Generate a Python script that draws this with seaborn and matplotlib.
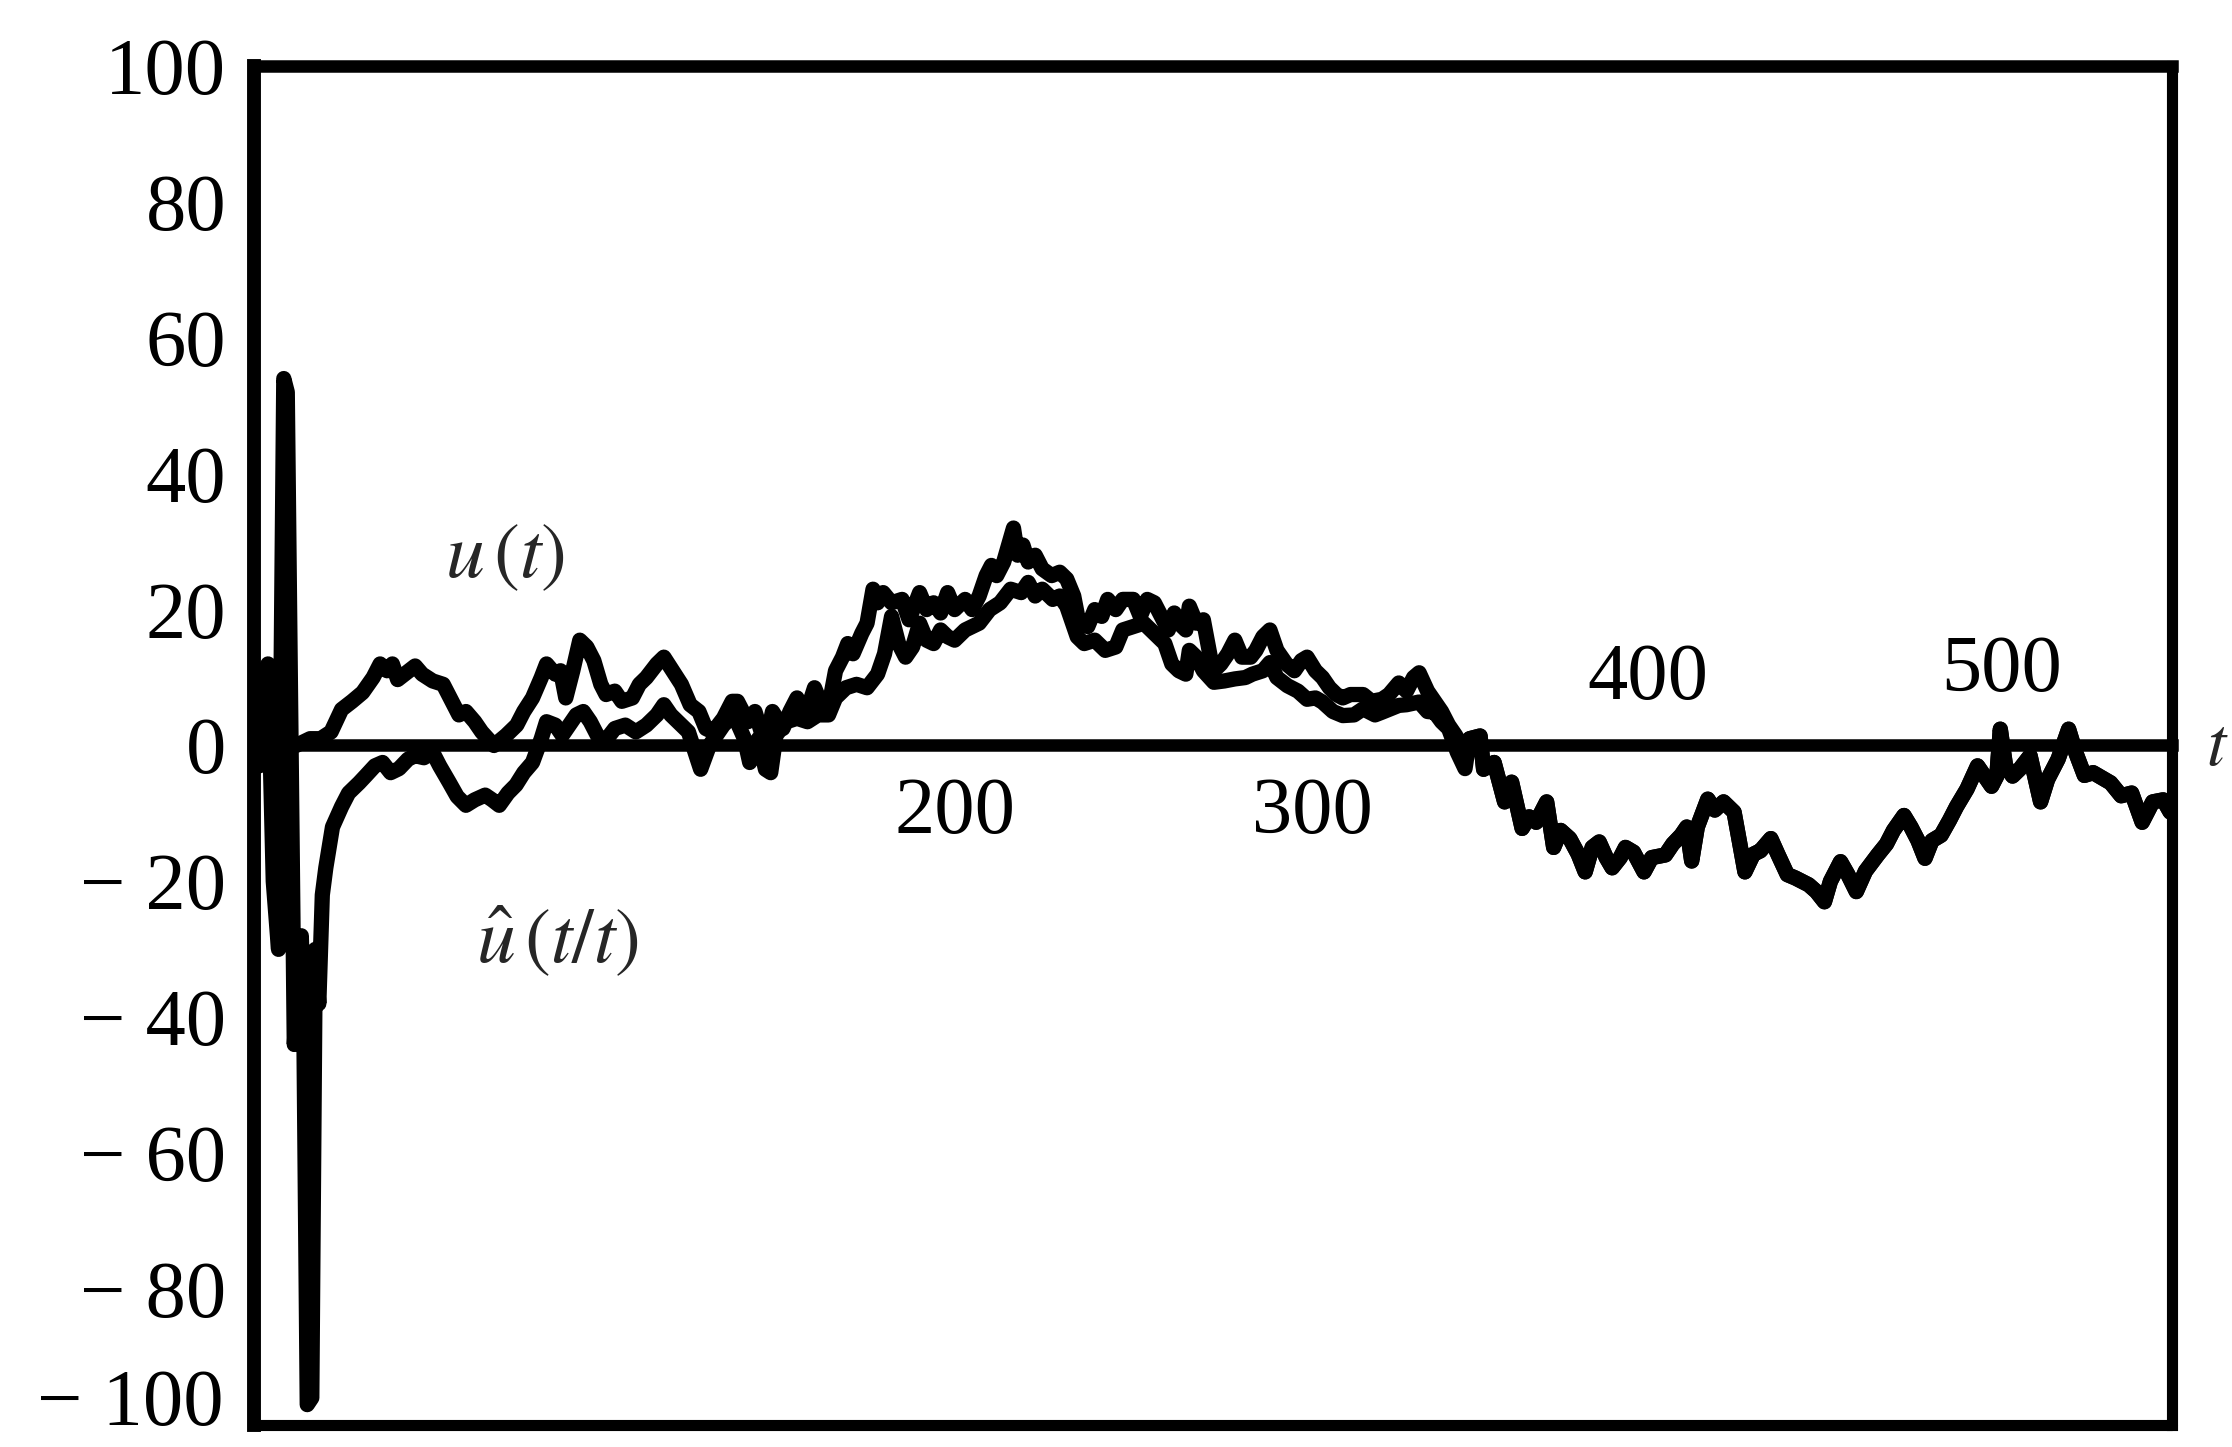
import matplotlib
matplotlib.use("Agg")
import matplotlib.pyplot as plt
import pandas as pd
import seaborn as sns

# ---------------- data ----------------
# true state u(t): (t, value)
u_points = [
    (0, 0), (4, -1), (8, 0.5), (12, 0), (16, 1), (19, 1), (22, 2), (25, 5.3), (28, 6.5),
    (31, 7.8), (34, 10), (36, 12), (38, 11), (39.5, 12), (41, 9.7), (43, 10.5), (46, 11.7),
    (48, 10.5), (51, 9.5), (54, 9), (56, 7), (58.5, 4.5), (60.5, 5), (63, 3.5), (65, 2),
    (68.5, 0), (72, 1.5), (75, 3), (77, 5), (79.5, 7), (82, 10), (83.5, 12), (86, 10.5),
    (87.5, 11), (89, 7), (91, 11), (93, 15.5), (95, 14.5), (97, 12.5), (99, 9), (100.5, 7.5),
    (103, 8), (105, 6.5), (108, 7), (110, 9), (112, 10), (115, 12), (117, 13), (119.5, 11),
    (122, 9), (124.5, 6), (127, 5), (129, 2.5), (131, 2), (134, 4), (136.5, 6.5), (138, 6.5),
    (141, 3.5), (143, 5), (146, 0), (148, 5), (151, 2.5), (153, 5), (155, 7), (157.5, 4.5),
    (160, 8.5), (162, 6), (164, 5.5), (166, 11), (168, 13), (169.5, 15), (171, 13.5),
    (173.5, 16.5), (175, 18), (176.7, 23), (178, 21), (179.6, 22.5), (182, 21), (185, 21.5),
    (187, 18.5), (190, 22.5), (192, 20), (194, 21), (196, 19.5), (198, 22.5), (200, 20),
    (203, 21.5), (205, 20), (207, 22), (209, 25), (210.5, 26.5), (212, 25), (214, 27),
    (216.8, 32), (218, 28), (219.5, 29.5), (221, 27), (223, 28), (225, 26), (227.7, 25),
    (230, 25.5), (232, 24.5), (234, 22), (235.5, 18), (238, 17.5), (240, 20), (242, 19),
    (243.7, 21.5), (246, 20), (248, 21.5), (251, 21.5), (253, 19), (255, 21.5), (257, 21),
    (259, 19), (261, 17), (262.7, 19.5), (264, 18), (266, 17), (267, 20.5), (269, 18),
    (271, 18.5), (273, 13), (274, 11), (276, 12), (278, 13.5), (280, 15.5), (282, 13),
    (284.5, 13), (286, 14), (288, 16), (290, 17), (292, 14), (294.7, 12), (297, 11),
    (299, 12.5), (300.6, 13), (303, 11), (305, 10), (307, 8.5), (309, 7.5), (310.8, 7),
    (313, 7.5), (316.6, 7.5), (319, 6.5), (322, 6.8), (324, 7.5), (326.8, 9.2), (329, 8),
    (331, 10), (332.6, 10.7), (335, 8), (337, 6.5), (339, 5), (341, 3), (343, 1.5),
    (345.7, -1), (347, 1), (350, 1.4), (351, -3.5), (354, -2.5), (357, -8.3), (359, -5.4),
    (362, -12.2), (364, -10.5), (366, -11.3), (369, -8.3), (371, -15), (373, -12.5),
    (375.6, -13.7), (378, -16), (380, -18.6), (382, -15), (384, -14.2), (386, -16.5),
    (387.7, -18), (390, -16.5), (391.5, -15), (393.8, -15.7), (396.8, -18.6), (399, -16.5),
    (402.9, -16.1), (405, -14.5), (407.4, -13.2), (409, -12), (410.4, -17), (412, -12),
    (415, -7.9), (417, -9.5), (419.5, -8.3), (422.5, -9.8), (425.6, -18.6), (428, -16),
    (430, -15.5), (433, -13.7), (435, -16), (437.7, -19), (440, -19.5), (443.8, -20.5),
    (446, -21.5), (448.3, -23), (450, -20), (452.9, -17.1), (455, -19), (457.4, -21.5),
    (460, -18.5), (463.5, -16.1), (466, -14.5), (468, -12.5), (471, -10.3), (473, -12),
    (475, -14), (477, -16.6), (479, -14), (481.6, -13.2), (484, -11), (486, -9),
    (489, -6.4), (492, -3), (494, -4.5), (496, -6), (497.5, -4.5), (498.5, 2.4), (500, -3),
    (502, -4.5), (504, -3.5), (507, -1.5), (510, -8.3), (512, -5), (515, -2), (518, 2.4),
    (520, -1), (522.5, -4.4), (525, -4), (527, -4.6), (530, -5.5), (533, -7.4), (536, -7),
    (539, -11.3), (542, -8.3), (545, -8), (547, -9.8),
]

# filter estimate u^(t/t), start-up transient
est_early_points = [
    (0, 0), (1.5, -3), (3, 11), (4, 12), (5.5, -20), (7, -30), (8.5, 54), (9.5, 52),
    (11.5, -44), (12.5, -35), (13.5, -28), (14.2, -40), (15.2, -97), (16.5, -96),
    (17.5, -30), (18.5, -38), (19.5, -22), (20.5, -18), (22.4, -12), (25, -9), (27, -7),
    (30, -5.5), (32, -4.4), (34.5, -3), (36.7, -2.5), (39, -4), (41.4, -3.4), (44, -2),
    (46, -1.5), (48.5, -1.8), (51, -1), (53, -3), (55.7, -5.4), (58, -7.5), (60.5, -8.8),
    (63, -8), (66, -7.3), (68, -8), (70, -8.8), (72.5, -7), (74.8, -5.8), (77, -4),
    (79.5, -2.5), (82, 1), (83.5, 3.5), (86, 3), (88, 1.5), (90, 3), (92, 4.5), (94, 5),
    (96, 3.5), (98, 1.5), (100, 0.5), (103, 2.5), (106, 3), (109, 2), (112, 3), (115, 4.5),
    (117, 6), (119, 4.5), (122, 3), (124, 2), (127.5, -3.5),
]

# filter estimate, middle part (lower side of the band)
est_mid_points = [
    (130, 0), (134, 3), (137, 4.5), (140, 1), (141.5, -2.5), (144, 1), (146, -3.5),
    (147.5, -4), (149, 1.5), (152, 3.5), (155, 4), (158, 3.5), (161, 4.5), (164, 4.5),
    (166, 7), (169, 8.5), (172, 9), (175, 8.5), (178, 10.5), (180, 13.5), (182, 19),
    (184, 15), (186, 13), (188, 14.5), (190, 18), (192, 15.5), (194, 15), (196, 17),
    (198, 16), (200, 15.5), (203, 17), (205, 17.5), (207, 18), (210, 20), (213, 21),
    (216, 23), (219, 22.5), (221, 24), (223, 22), (225, 23), (228, 21.5), (230, 22),
    (232, 20.5), (235, 16), (237, 15), (240, 15.5), (243, 14), (246, 14.5), (248, 17),
    (251, 17.5), (254, 18), (257, 16.5), (260, 15), (262, 12), (264, 11), (266, 10.5),
    (267, 14), (269, 13), (271, 11), (274, 9.3), (277, 9.5), (280, 9.8), (283, 10),
    (285, 10.5), (288, 11), (290, 12.2), (292, 10), (295, 8.8), (298, 8), (300.6, 6.8),
    (303, 7), (305, 6.4), (308, 5), (310.8, 4.4), (314, 4.5), (316.6, 5.4), (320, 4.5),
    (322, 4.9), (326.8, 5.9), (329, 6), (332.6, 6.4), (335, 5), (337, 4.9), (339, 3.5),
    (341, 2.5), (343.5, -1), (345.7, -3.4),
]
est_join_t = 347  # from here on the estimate lies on the true state

y_ticks = [100, 80, 60, 40, 20, 0, -20, -40, -60, -80, -100]
y_tick_labels = ["100", "80", "60", "40", "20", "0",
                 "\u2212 20", "\u2212 40", "\u2212 60", "\u2212 80", "\u2212 100"]
x_ticks = [50, 100, 150, 200, 250, 300, 350, 400, 450, 500]
x_label_vals = [200, 300, 400, 500]
x_label_pos = [(200, -10), (302, -10), (398, 9.7), (499, 10.9)]

# ---------------- build tables ----------------
df_true = pd.DataFrame(u_points, columns=["t", "v"])
est_tail = [p for p in u_points if p[0] >= est_join_t]
df_est = pd.DataFrame(est_early_points + est_mid_points + est_tail, columns=["t", "v"])

# ---------------- plotting ----------------
sns.set_style("white")
plt.rcParams["font.family"] = ["Liberation Serif", "DejaVu Serif"]
plt.rcParams["mathtext.fontset"] = "stix"

fig = plt.figure(figsize=(22.32, 14.47), dpi=100)
ax = fig.add_axes([0.1138, 0.0152, 0.8593, 0.9392])

line_kw = dict(color="black", linewidth=11, estimator=None, sort=False,
               solid_joinstyle="round", solid_capstyle="round", legend=False)
sns.lineplot(data=df_est, x="t", y="v", ax=ax, **line_kw)
sns.lineplot(data=df_true, x="t", y="v", ax=ax, **line_kw)

ax.set_xlim(0, 547.5)
ax.set_ylim(-100, 100)
ax.set_xlabel("")
ax.set_ylabel("")

# frame
for side in ["left", "right", "top", "bottom"]:
    ax.spines[side].set_visible(True)
    ax.spines[side].set_color("black")
ax.spines["left"].set_linewidth(10)
ax.spines["right"].set_linewidth(8)
ax.spines["top"].set_linewidth(9)
# bottom spine serves as the zero line carrying the t ticks
ax.spines["bottom"].set_position(("data", 0))
ax.spines["bottom"].set_linewidth(9)
ax.axhline(-100, color="black", linewidth=8, clip_on=False, zorder=3)

ax.set_xticks(x_ticks)
ax.set_xticklabels([])
ax.tick_params(axis="x", direction="in", length=15, width=9, color="black")

ax.set_yticks(y_ticks)
ax.set_yticklabels(y_tick_labels[:-1] + [""])
ax.tick_params(axis="y", direction="in", length=18, width=8, pad=20,
               labelsize=58, color="black", labelcolor="black")
# lowest label sits right at the bottom edge; keep it fully inside the figure
ax.text(-0.016, -0.0125, y_tick_labels[-1], transform=ax.transAxes,
        fontsize=58, ha="right", va="bottom", color="black")

for val, (xp, yp) in zip(x_label_vals, x_label_pos):
    ax.text(xp, yp, str(val), fontsize=58, ha="center", va="center", color="black")

ax.text(71.5, 27.5, r"$u\,(t)$", fontsize=56, ha="center", va="center")
ax.text(86.6, -29.0, r"$\hat{u}\,(t/t)$", fontsize=56, ha="center", va="center")
fig.text(0.9985, 1 - 748 / 1447, r"$t$", fontsize=50, ha="right", va="center")

fig.savefig("out.png", dpi=100, facecolor="white")
